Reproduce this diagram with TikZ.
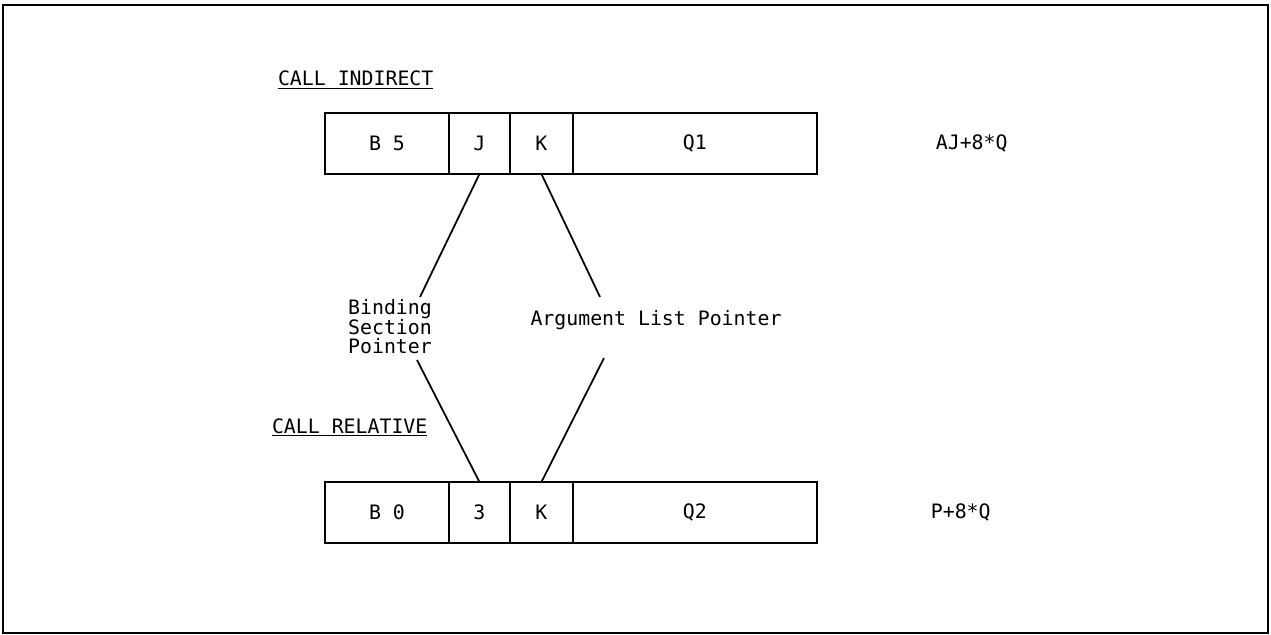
\documentclass[tikz,border=0pt]{standalone}
\usepackage{fontspec}
\setmonofont{DejaVu Sans Mono}
\usetikzlibrary{positioning, calc}
\tikzset{
  cell/.style={rectangle, draw=black, line width=1pt, minimum height=1.22cm,
               inner sep=0pt, outer sep=0pt, anchor=west,
               font=\ttfamily\fontsize{11.3}{11.1}\selectfont, text=black, align=center},
  lbl/.style={inner sep=0pt, outer sep=0pt,
              font=\ttfamily\fontsize{11.3}{11.1}\selectfont, text=black},
  ptr/.style={line width=1pt, color=black},
}

\begin{document}
\begin{tikzpicture}[x=0.02cm, y=-0.02cm]
  \useasboundingbox (0,0) rectangle (1271,635);
  % frame
  \draw[line width=1.2pt] (3,5) rectangle (1268,633);

  % Call indirect word
  \node[lbl, anchor=base west] (tind) at (278,86) {\underline{CALL INDIRECT}};
  \node[cell, minimum width=2.48cm] (b5) at (325,143.5) {B 5};
  \node[cell, minimum width=1.22cm, right=0pt of b5] (j) {J};
  \node[cell, minimum width=1.26cm, right=0pt of j] (k1) {K};
  \node[cell, minimum width=4.88cm, right=0pt of k1] (q1) {Q1};
  \node[lbl, right=2.38cm of q1] (eind) {AJ+8*Q};

  % Call relative word
  \node[lbl, anchor=base west] (trel) at (272,433) {\underline{CALL RELATIVE}};
  \node[cell, minimum width=2.48cm] (b0) at (325,512.5) {B 0};
  \node[cell, minimum width=1.22cm, right=0pt of b0] (d3) {3};
  \node[cell, minimum width=1.26cm, right=0pt of d3] (k2) {K};
  \node[cell, minimum width=4.88cm, right=0pt of k2] (q2) {Q2};
  \node[lbl, right=2.28cm of q2] (erel) {P+8*Q};

  % Pointer labels
  \node[lbl, align=left] (bsp) at (390,327) {Binding\\Section\\Pointer};
  \node[lbl] (alp) at (656,320) {Argument List Pointer};

  \coordinate (bspin) at (420,297);
  \coordinate (bspout) at (417,360);
  \coordinate (alpin) at (600,297);
  \coordinate (alpout) at (604,358);

  \draw[ptr] (j.south) -- (bspin);
  \draw[ptr] (bspout) -- (d3.north);
  \draw[ptr] (k1.south) -- (alpin);
  \draw[ptr] (alpout) -- (k2.north);
\end{tikzpicture}
\end{document}
